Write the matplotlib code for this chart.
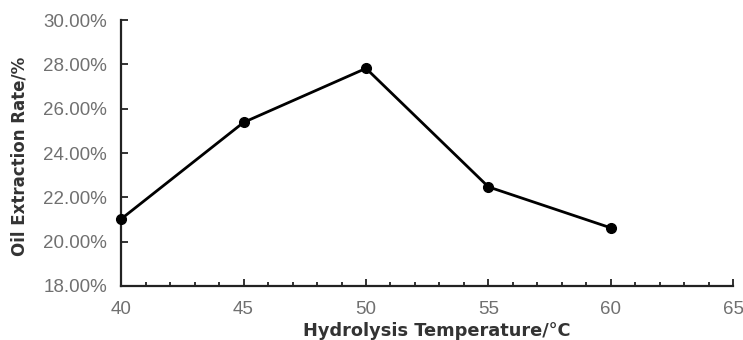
import matplotlib
matplotlib.use("Agg")
import matplotlib.pyplot as plt
from matplotlib.ticker import FuncFormatter, MultipleLocator

temps = [40, 45, 50, 55, 60]
rates = [21.02, 25.38, 27.82, 22.47, 20.62]
xticks = [40, 45, 50, 55, 60, 65]
yticks = [18, 20, 22, 24, 26, 28, 30]

plt.rcParams['font.family'] = ['Liberation Sans', 'DejaVu Sans']

fig = plt.figure(figsize=(7.43, 3.4), dpi=100)
ax = fig.add_axes([0.163, 0.159, 0.824, 0.782])
ax.plot(temps, rates, color='black', lw=2, marker='o', markersize=7, clip_on=False, zorder=3)
ax.set_xlim(40, 65)
ax.set_ylim(18, 30)
ax.set_xticks(xticks)
ax.set_yticks(yticks)
ax.xaxis.set_minor_locator(MultipleLocator(1))
ax.yaxis.set_major_formatter(FuncFormatter(lambda v, p: f"{v:.2f}%"))
for s in ['top', 'right']:
    ax.spines[s].set_visible(False)
for s in ['left', 'bottom']:
    ax.spines[s].set_linewidth(1.6)
    ax.spines[s].set_color('#222222')
ax.tick_params(axis='both', which='major', direction='in', length=5, width=1.3, color='#222222',
               labelsize=13.5, labelcolor='#707070')
ax.tick_params(axis='x', which='minor', direction='in', length=3, width=1.3, color='#222222')
ax.tick_params(axis='x', which='major', pad=11)
ax.tick_params(axis='y', which='major', pad=10)
ax.set_xlabel('Hydrolysis Temperature/°C', fontsize=12.8, fontweight='bold', color='#333333',
              family='DejaVu Sans')
ax.set_ylabel('Oil Extraction Rate/%', fontsize=12, fontweight='bold', color='#333333',
              family='DejaVu Sans')
ax.xaxis.set_label_coords(0.516, -0.135)
ax.yaxis.set_label_coords(-0.152, 0.486)
fig.savefig('out.png', dpi=100)
